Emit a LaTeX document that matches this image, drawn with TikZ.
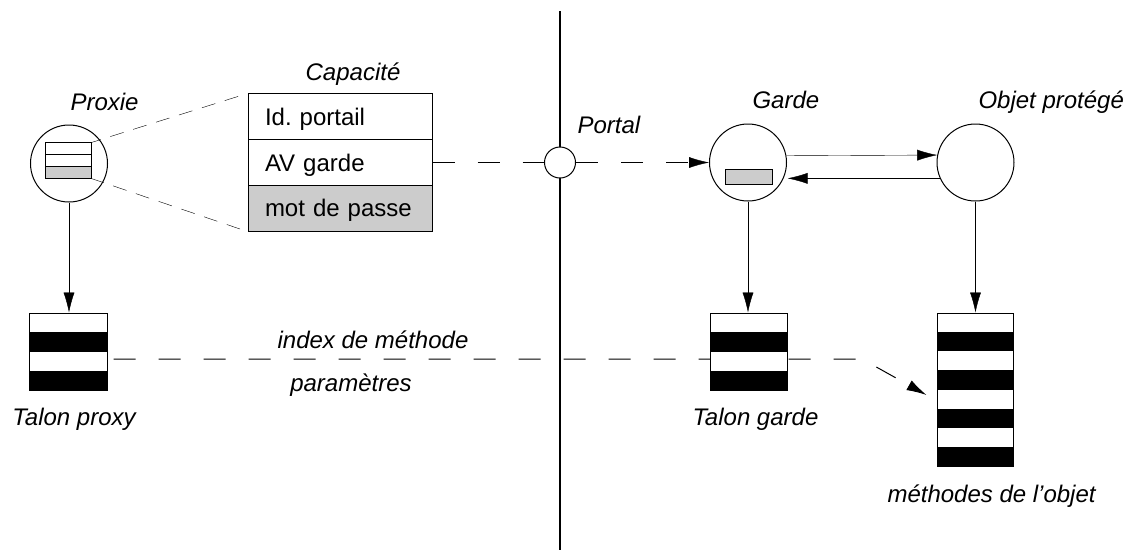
\documentclass[tikz,border=0pt]{standalone}
\usepackage{fontspec}
\setmainfont{Liberation Sans}
\usetikzlibrary{arrows.meta,calc}
\pgfdeclarelayer{bg}
\pgfsetlayers{bg,main}
\frenchspacing

% striped stub: #1 bands, every second one filled black
\tikzset{
  stripes/.style={path picture={
    \foreach \k in {2,4,...,#1}{
      \pgfmathsetmacro\ftop{(\k-1)/#1}
      \pgfmathsetmacro\fbot{\k/#1}
      \fill[black] ($(path picture bounding box.north west)!\ftop!(path picture bounding box.south west)$)
        rectangle ($(path picture bounding box.north east)!\fbot!(path picture bounding box.south east)$);
    }}},
}

\begin{document}
\begin{tikzpicture}[x=1pt,y=-1pt,line width=1pt,
  >={Latex[length=20pt,width=11pt]},
  font=\fontsize{24pt}{28pt}\selectfont,
  ball/.style={circle,draw,fill=white,minimum size=77pt,inner sep=0pt},
  portc/.style={circle,draw,fill=white,minimum size=31pt,inner sep=0pt},
  capcell/.style={rectangle,draw,fill=white,minimum height=45.7pt,inner xsep=17pt,inner ysep=0pt,
                  text width=150pt,align=left,text height=17pt,text depth=0pt},
  minicell/.style={rectangle,draw,fill=white,minimum width=46pt,minimum height=11.67pt,inner sep=0pt},
  stub/.style={rectangle,draw,fill=white,inner sep=0pt,stripes=#1},
  lbl/.style={font=\fontsize{24pt}{28pt}\selectfont\itshape,inner sep=0pt},
  longdash/.style={dash pattern=on 22pt off 23pt},
  shortdash/.style={dash pattern=on 14pt off 10pt,dash phase=14pt},
  passfill/.style={fill=black!20},
]
\useasboundingbox (0,0) rectangle (1133,550);

% proxy with its miniature capability
\node[ball] (proxy) at (69,163.5) {};
\node[minicell] (m1) at (68,148.8) {};
\node[minicell] (m2) at (68,160.5) {};
\node[minicell,passfill] (m3) at (68,172.2) {};

% capability, enlarged
\node[capcell] (idrow) at (340,116.8) {Id. portail};
\node[capcell] (avrow) at (340,162.5) {AV garde};
\node[capcell,passfill] (pwrow) at (340,208.2) {mot de passe};

% portal, guard and protected object
\node[portc] (portal) at (560,162.5) {};
\node[ball] (guard) at (748,162.5) {};
\node[rectangle,draw,passfill,minimum width=47pt,minimum height=15pt,inner sep=0pt] (shield) at (748.5,176.5) {};
\node[ball] (object) at (975.5,162.5) {};

% stubs and method table
\node[stub=4,minimum width=78pt,minimum height=77pt] (talonp) at (68,351.5) {};
\node[stub=4,minimum width=77pt,minimum height=77pt] (talong) at (748.5,351.5) {};
\node[stub=8,minimum width=76pt,minimum height=153pt] (methods) at (975,389.5) {};

% labels
\node[lbl,anchor=base west] (lproxie) at (70,110) {Proxie};
\node[lbl,anchor=base] (lcap) at (353,80) {Capacité};
\node[lbl,anchor=base west] (lportal) at (577,133) {Portal};
\node[lbl,anchor=base west] (lgarde) at (752,108) {Garde};
\node[lbl,anchor=base west] (lobjet) at (978,108) {Objet protégé};
\node[lbl,anchor=base] (lindex) at (373,348) {index de méthode};
\node[lbl,anchor=base] (lparam) at (351,391) {paramètres};
\node[lbl,anchor=base west] (ltp) at (12,425) {Talon proxy};
\node[lbl,anchor=base west] (ltg) at (692,425) {Talon garde};
\node[lbl,anchor=base west] (lmeth) at (887,502) {méthodes de l’objet};

% boundary wall and the call path behind the nodes
\coordinate (wtop) at (560,11);
\coordinate (wbot) at (560,550);
\coordinate (bend) at (862,359);
\begin{pgfonlayer}{bg}
  \draw[line width=1pt,longdash,dash phase=39pt,->] ([yshift=-7.5pt]talonp.east) -- (bend) -- ([shift={(-10,5.5)}]methods.west);
  \draw[line width=2.7pt] (wtop) -- (wbot);
\end{pgfonlayer}

% zoom lines from the miniature to the capability
\draw (m1.north east) -- ($(m1.north east)!9.7pt!(idrow.north west)$) coordinate (za);
\draw[shortdash] (za) -- (idrow.north west);
\draw (m3.south east) -- ($(m3.south east)!12.9pt!(pwrow.south west)$) coordinate (zb);
\draw[shortdash] (zb) -- (pwrow.south west);

% capability routed through the portal to the guard
\draw[longdash] (avrow.east) -- (portal.west);
\draw[longdash,->] (portal.east) -- (guard.west);

% guard <-> object
\draw[->] (guard.10.5) -- (object.169.5);
\draw[->,shorten >=4pt] (object.204.6) -- (guard.-24.6);

% downward links to the stubs
\draw[->] (proxy.south) -- (proxy.south |- talonp.north);
\draw[->] (guard.south) -- (guard.south |- talong.north);
\draw[->] (object.south) -- (object.south |- methods.north);
\end{tikzpicture}
\end{document}
